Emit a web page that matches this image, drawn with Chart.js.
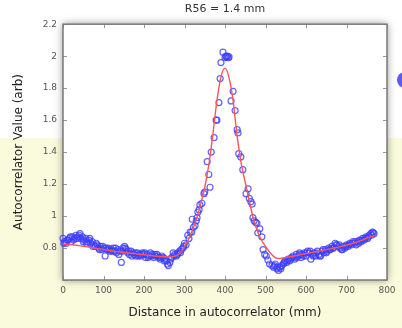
<!DOCTYPE html>
<html>
<head>
<meta charset="utf-8">
<script src="https://cdn.jsdelivr.net/npm/chart.js@4.4.0/dist/chart.umd.min.js"></script>
<style>
  html, body { margin: 0; padding: 0; overflow: hidden; background: #fff; }
  #wrap { position: relative; width: 402px; height: 328px; overflow: hidden; }
  #bullet { position: absolute; left: 397px; top: 72px; width: 16px; height: 16px; border-radius: 50%; background: #5b5bf2; }
</style>
</head>
<body>
<div id="wrap">
  <canvas id="chart" width="402" height="328"></canvas>
  <div id="bullet"></div>
</div>
<script>
// measured points: distance (mm) and autocorrelator value (arb)
const distMm = [
  0, 4, 8, 12, 16, 20, 24, 28, 32, 36, 40, 44, 48, 52, 56, 60, 64, 68, 72, 76,
  80, 84, 88, 92, 96, 100, 104, 108, 112, 116, 120, 124, 128, 132, 136, 140, 144, 148, 152, 156,
  160, 164, 168, 172, 176, 180, 184, 188, 192, 196, 200, 204, 208, 212, 216, 220, 224, 228, 232, 236,
  240, 244, 248, 252, 256, 260, 264, 268, 272, 276, 280, 284, 288, 292, 296,
  2, 10, 18, 26, 34, 42, 50, 58, 66, 74, 82, 90, 98, 106, 114, 122, 130, 138, 146, 154,
  162, 170, 178, 186, 194, 202, 210, 218, 226, 234, 242, 250, 258, 266, 274, 282, 290, 298,
  300, 304, 308, 311, 314, 318, 319, 322, 326, 329, 331, 333, 336, 338, 343, 348, 350, 356, 360, 363,
  366, 373, 378, 380, 385, 388, 390, 395, 400, 402, 404, 406, 408, 410, 415, 420, 425, 430, 432, 434,
  439, 444, 452, 457, 460, 464, 467, 469, 472, 476, 479, 481, 486, 491, 494, 498, 502, 506, 510, 516,
  520, 524, 528, 532, 536, 540, 544, 548, 552, 556, 560, 564, 568, 572, 576, 580, 584, 588, 592, 596,
  600, 604, 608, 612, 616, 620, 624, 628, 632, 636, 640, 644, 648, 652, 656, 660, 664, 668, 672, 676,
  680, 684, 688, 692, 696, 700, 704, 708, 712, 716, 720, 724, 728, 732, 736, 740, 744, 748, 752, 756,
  760, 764, 768,
  522, 530, 538, 546, 554, 562, 570, 578, 586, 594, 602, 610, 618, 626, 634, 642, 650, 658, 666, 674,
  682, 690, 698, 706, 714, 722, 730, 738, 746, 754, 762, 766
];
const autoVal = [
  0.86, 0.84, 0.83, 0.85, 0.86, 0.84, 0.87, 0.86, 0.88, 0.87, 0.88, 0.86, 0.87, 0.85, 0.86, 0.84, 0.85, 0.83, 0.84, 0.82,
  0.81, 0.82, 0.80, 0.81, 0.79, 0.80, 0.75, 0.79, 0.80, 0.78, 0.79, 0.80, 0.78, 0.77, 0.79, 0.78, 0.71, 0.80, 0.81, 0.79,
  0.77, 0.76, 0.78, 0.77, 0.76, 0.75, 0.77, 0.76, 0.75, 0.77, 0.76, 0.74, 0.76, 0.75, 0.77, 0.76, 0.74, 0.75, 0.76, 0.74,
  0.73, 0.75, 0.74, 0.73, 0.72, 0.69, 0.71, 0.74, 0.77, 0.76, 0.75, 0.77, 0.78, 0.79, 0.80,
  0.83, 0.85, 0.87, 0.85, 0.86, 0.89, 0.84, 0.83, 0.86, 0.81, 0.83, 0.79, 0.81, 0.80, 0.79, 0.78, 0.80, 0.76, 0.78, 0.80,
  0.78, 0.75, 0.77, 0.75, 0.76, 0.77, 0.74, 0.75, 0.76, 0.75, 0.74, 0.72, 0.70, 0.73, 0.75, 0.76, 0.77, 0.81,
  0.83, 0.82, 0.88, 0.86, 0.90, 0.90, 0.98, 0.93, 0.94, 0.97, 0.99, 1.025, 1.04, 1.07, 1.08, 1.14, 1.15, 1.34, 1.26, 1.18,
  1.40, 1.49, 1.60, 1.60, 1.71, 1.86, 1.96, 2.025, 1.99, 2.00, 1.995, 2.00, 1.99, 1.995, 1.72, 1.78, 1.66, 1.54, 1.52, 1.39,
  1.37, 1.29, 1.14, 1.17, 1.11, 1.09, 1.075, 0.99, 0.97, 0.96, 0.955, 0.895, 0.92, 0.87, 0.79, 0.76, 0.75, 0.725, 0.70, 0.69,
  0.68, 0.70, 0.67, 0.66, 0.68, 0.69, 0.70, 0.72, 0.71, 0.73, 0.72, 0.74, 0.75, 0.73, 0.76, 0.75, 0.77, 0.74, 0.76, 0.77,
  0.75, 0.78, 0.77, 0.73, 0.76, 0.77, 0.75, 0.78, 0.76, 0.75, 0.78, 0.77, 0.79, 0.78, 0.80, 0.79, 0.81, 0.80, 0.83, 0.82,
  0.81, 0.80, 0.79, 0.81, 0.80, 0.82, 0.81, 0.83, 0.82, 0.84, 0.83, 0.82, 0.84, 0.85, 0.84, 0.86, 0.85, 0.87, 0.86, 0.88,
  0.89, 0.90, 0.89,
  0.69, 0.68, 0.67, 0.71, 0.72, 0.73, 0.74, 0.74, 0.76, 0.75, 0.77, 0.78, 0.75, 0.77, 0.75, 0.79, 0.77, 0.79, 0.80, 0.82,
  0.82, 0.79, 0.81, 0.82, 0.83, 0.84, 0.83, 0.85, 0.86, 0.87, 0.88, 0.895
];

// fitted curve (red)
const fitX = [
  0, 10, 20, 30, 40, 50, 60, 70, 80, 90, 100, 110, 120, 130, 140, 150, 160, 170, 180, 190,
  200, 210, 220, 230, 240, 250, 260, 270, 280, 290, 300, 310, 320, 330, 340, 350, 360, 370, 380, 390,
  400, 410, 420, 430, 440, 450, 460, 470, 480, 490, 500, 510, 520, 530, 540, 550, 560, 570, 580, 590,
  600, 610, 620, 630, 640, 650, 660, 670, 680, 690, 700, 710, 720, 730, 740, 750, 760, 770
];
const fitY = [
  0.825, 0.823, 0.821, 0.818, 0.815, 0.811, 0.807, 0.803, 0.799, 0.795, 0.791, 0.787, 0.783, 0.779, 0.776, 0.773, 0.770, 0.767, 0.764, 0.761,
  0.758, 0.755, 0.752, 0.749, 0.747, 0.745, 0.744, 0.746, 0.752, 0.770, 0.810, 0.855, 0.915, 0.985, 1.075, 1.180, 1.320, 1.510, 1.720, 1.870,
  1.925, 1.865, 1.720, 1.500, 1.330, 1.210, 1.095, 0.985, 0.905, 0.850, 0.810, 0.775, 0.748, 0.735, 0.737, 0.741, 0.746, 0.750, 0.755, 0.760,
  0.765, 0.770, 0.775, 0.780, 0.785, 0.790, 0.795, 0.800, 0.806, 0.812, 0.818, 0.825, 0.833, 0.842, 0.851, 0.861, 0.871, 0.878
];

const xTicks = [0, 100, 200, 300, 400, 500, 600, 700, 800];
const xTickLabels = ["0", "100", "200", "300", "400", "500", "600", "700", "800"];
const yTicks = [0.6, 0.8, 1, 1.2, 1.4, 1.6, 1.8, 2, 2.2];
const yTickLabels = ["", "0.8", "1", "1.2", "1.4", "1.6", "1.8", "2", "2.2"];

const FONT = "'DejaVu Sans', sans-serif";

const slideBackground = {
  id: "slideBackground",
  beforeDraw(chart) {
    const { ctx, width, height, chartArea: a } = chart;
    ctx.save();
    ctx.fillStyle = "#ffffff";
    ctx.fillRect(0, 0, width, height);
    ctx.fillStyle = "#fafadc";
    ctx.fillRect(0, 138, width, height - 138);
    ctx.shadowColor = "rgba(0,0,0,0.45)";
    ctx.shadowBlur = 8;
    ctx.fillStyle = "#ffffff";
    ctx.fillRect(a.left, a.top, a.width, a.height);
    ctx.restore();
  },
};

const boxTicks = {
  id: "boxTicks",
  beforeDatasetsDraw(chart) {
    const { ctx, chartArea: a, scales } = chart;
    const line = (x1, y1, x2, y2) => {
      ctx.beginPath();
      ctx.moveTo(x1, y1);
      ctx.lineTo(x2, y2);
      ctx.stroke();
    };
    ctx.save();
    ctx.strokeStyle = "#999";
    ctx.lineWidth = 1;
    scales.x.ticks.forEach((t) => {
      const px = Math.round(scales.x.getPixelForValue(t.value)) + 0.5;
      line(px, a.bottom, px, a.bottom - 4);
      line(px, a.top, px, a.top + 4);
    });
    scales.y.ticks.forEach((t) => {
      const py = Math.round(scales.y.getPixelForValue(t.value)) + 0.5;
      line(a.left, py, a.left + 4, py);
      line(a.right, py, a.right - 4, py);
    });
    ctx.strokeStyle = "#7a7a7a";
    ctx.lineWidth = 1.5;
    ctx.strokeRect(a.left, a.top, a.width, a.height);
    ctx.restore();
  },
};

new Chart(document.getElementById("chart"), {
  type: "line",
  data: {
    datasets: [
      {
        label: "fit",
        data: fitX.map((x, i) => ({ x: x, y: fitY[i] })),
        borderColor: "#ff5555",
        borderWidth: 1.4,
        pointRadius: 0,
        cubicInterpolationMode: "monotone",
        order: 0,
      },
      {
        label: "data",
        data: distMm.map((x, i) => ({ x: x, y: autoVal[i] })),
        showLine: false,
        pointRadius: 3,
        pointBorderWidth: 1.2,
        pointBorderColor: "rgba(60,60,255,0.8)",
        pointBackgroundColor: "rgba(0,0,0,0)",
        clip: false,
        order: 1,
      },
    ],
  },
  options: {
    responsive: false,
    animation: false,
    layout: { padding: { left: 0, right: 15, top: 0, bottom: 0 } },
    plugins: {
      legend: { display: false },
      tooltip: { enabled: false },
      title: {
        display: true,
        fullSize: false,
        text: "R56 = 1.4 mm",
        color: "#333",
        font: { family: FONT, size: 11, weight: "normal" },
        padding: { top: 3, bottom: 8 },
      },
    },
    scales: {
      x: {
        type: "linear",
        min: 0,
        max: 800,
        afterBuildTicks: (s) => { s.ticks = xTicks.map((v) => ({ value: v })); },
        afterFit: (s) => { s.height = 48; },
        grid: { display: false, drawTicks: false },
        border: { display: false },
        ticks: {
          autoSkip: false,
          maxRotation: 0,
          padding: 5,
          color: "#555",
          font: { family: FONT, size: 9 },
          callback: (v) => xTickLabels[xTicks.indexOf(v)],
        },
        title: {
          display: true,
          text: "Distance in autocorrelator (mm)",
          color: "#222",
          font: { family: FONT, size: 12 },
          padding: { top: 0, bottom: 8 },
        },
      },
      y: {
        min: 0.6,
        max: 2.2,
        afterBuildTicks: (s) => { s.ticks = yTicks.map((v) => ({ value: v })); },
        afterFit: (s) => { s.width = 63; },
        grid: { display: false, drawTicks: false },
        border: { display: false },
        ticks: {
          autoSkip: false,
          padding: 6,
          color: "#555",
          font: { family: FONT, size: 9 },
          callback: (v) => yTickLabels[yTicks.findIndex((t) => Math.abs(t - v) < 1e-9)],
        },
        title: {
          display: true,
          text: "Autocorrelator Value (arb)",
          color: "#222",
          font: { family: FONT, size: 12 },
          padding: { top: 12, bottom: 0 },
        },
      },
    },
  },
  plugins: [slideBackground, boxTicks],
});
</script>
</body>
</html>
